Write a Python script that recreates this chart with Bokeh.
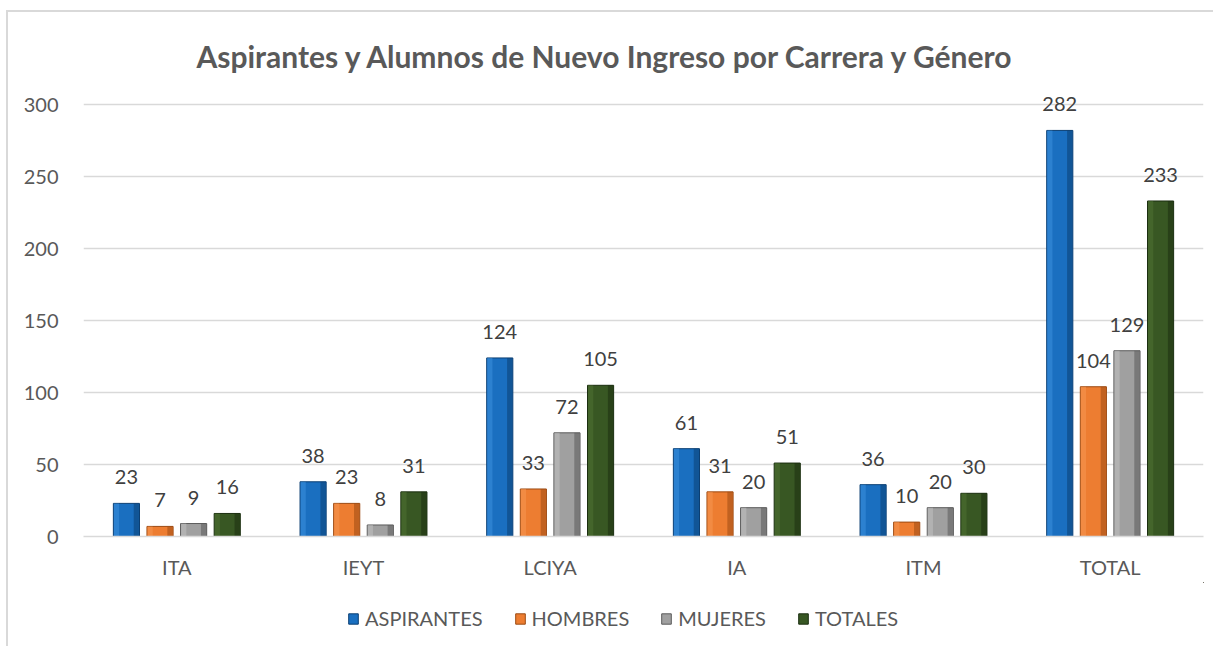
from bokeh.plotting import figure
from bokeh.layouts import column
from bokeh.models import ColumnDataSource, FactorRange, Legend, LegendItem, LabelSet, Label, Range1d
from bokeh.core.properties import value
from bokeh.transform import dodge
from bokeh.embed import file_html
from bokeh.resources import INLINE

carreras = ["ITA", "IEYT", "LCIYA", "IA", "ITM", "TOTAL"]
aspirantes = [23, 38, 124, 61, 36, 282]
hombres = [7, 23, 33, 31, 10, 104]
mujeres = [9, 8, 72, 20, 20, 129]
totales = [16, 31, 105, 51, 30, 233]
series_names = ["ASPIRANTES", "HOMBRES", "MUJERES", "TOTALES"]
y_ticks = [0, 50, 100, 150, 200, 250, 300]
title_text = "Aspirantes y Alumnos de Nuevo Ingreso por Carrera y Género"
colors = ["#1a6fc0", "#ed7d31", "#a0a0a0", "#385723"]
dark = ["#0b3f73", "#9c4a12", "#5a5a5a", "#1b2e10"]
light = ["#3d93e0", "#f79a55", "#c4c4c4", "#4f7434"]
offsets = [-0.27, -0.09, 0.09, 0.27]
bw = 0.14

src = ColumnDataSource(dict(x=carreras, a=aspirantes, h=hombres, m=mujeres, t=totales,
                            la=[str(v) for v in aspirantes], lh=[str(v) for v in hombres],
                            lm=[str(v) for v in mujeres], lt=[str(v) for v in totales]))
keys = ["a", "h", "m", "t"]
lkeys = ["la", "lh", "lm", "lt"]

W = 1205
# frame extends above the 300 gridline to leave room for the title inside it
p = figure(x_range=FactorRange(*carreras, range_padding=0), y_range=Range1d(0, 351.4),
           width=W, height=570, output_backend="svg", toolbar_location=None,
           min_border_left=75, min_border_right=10, min_border_top=18, min_border_bottom=46)

for i in range(4):
    p.vbar(x=dodge("x", offsets[i], range=p.x_range), top=keys[i], width=bw, source=src,
           fill_color=colors[i], line_color=dark[i], line_width=1)
    p.vbar(x=dodge("x", offsets[i] + bw * 0.38, range=p.x_range), top=keys[i], width=bw * 0.2,
           source=src, fill_color=dark[i], fill_alpha=0.55, line_color=None)
    p.vbar(x=dodge("x", offsets[i] - bw * 0.38, range=p.x_range), top=keys[i], width=bw * 0.2,
           source=src, fill_color=light[i], fill_alpha=0.5, line_color=None)
    lbl = LabelSet(x=dodge("x", offsets[i], range=p.x_range), y=keys[i], text=lkeys[i], source=src,
                   text_align="center", text_baseline="bottom", y_offset=19,
                   text_font=value("Lato"), text_font_size=value("20px"), text_color="#404040")
    p.add_layout(lbl)

title = Label(x=0.605, y=334, text=title_text, text_align="left", text_baseline="middle",
              text_font="Lato", text_font_size="30px", text_font_style="bold", text_color="#595959")
p.add_layout(title)

p.yaxis.ticker = y_ticks
p.yaxis.axis_line_color = None
p.yaxis.major_tick_line_color = None
p.yaxis.minor_tick_line_color = None
p.yaxis.major_label_text_font = "Lato"
p.yaxis.major_label_text_font_size = "20px"
p.yaxis.major_label_text_color = "#595959"
p.yaxis.major_label_standoff = 19
p.xaxis.axis_line_color = "#d9d9d9"
p.xaxis.axis_line_width = 1.5
p.xaxis.major_tick_line_color = None
p.xaxis.minor_tick_line_color = None
p.xaxis.major_label_text_font = "Lato"
p.xaxis.major_label_text_font_size = "20px"
p.xaxis.major_label_text_color = "#595959"
p.xaxis.major_label_standoff = 12
p.xgrid.grid_line_color = None
p.ygrid.grid_line_color = "#d9d9d9"
p.ygrid.grid_line_width = 1.5
p.outline_line_color = None

# legend strip
p2 = figure(width=W, height=64, x_range=Range1d(0, 1), y_range=Range1d(0, 1),
            output_backend="svg", toolbar_location=None,
            min_border_left=0, min_border_right=0, min_border_top=0, min_border_bottom=0)
p2.axis.visible = False
p2.grid.grid_line_color = None
p2.outline_line_color = None
items = []
for i in range(4):
    r = p2.vbar(x=[5], top=[5], bottom=[4], width=0.1, fill_color=colors[i], line_color=dark[i])
    items.append(LegendItem(label=series_names[i], renderers=[r]))
legend = Legend(items=items, orientation="horizontal", location=(264, 16),
                label_text_font="Lato", label_text_font_size="20px", label_text_color="#595959",
                border_line_color=None, background_fill_alpha=0, glyph_width=12, glyph_height=13,
                spacing=31, label_standoff=6, padding=0, margin=0)
p2.add_layout(legend)

layout = column(p, p2, margin=(10, 0, 0, 6),
                styles={"border-left": "2px solid #d9d9d9", "border-top": "2px solid #d9d9d9"})
open("out.html", "w").write(file_html(layout, INLINE))
